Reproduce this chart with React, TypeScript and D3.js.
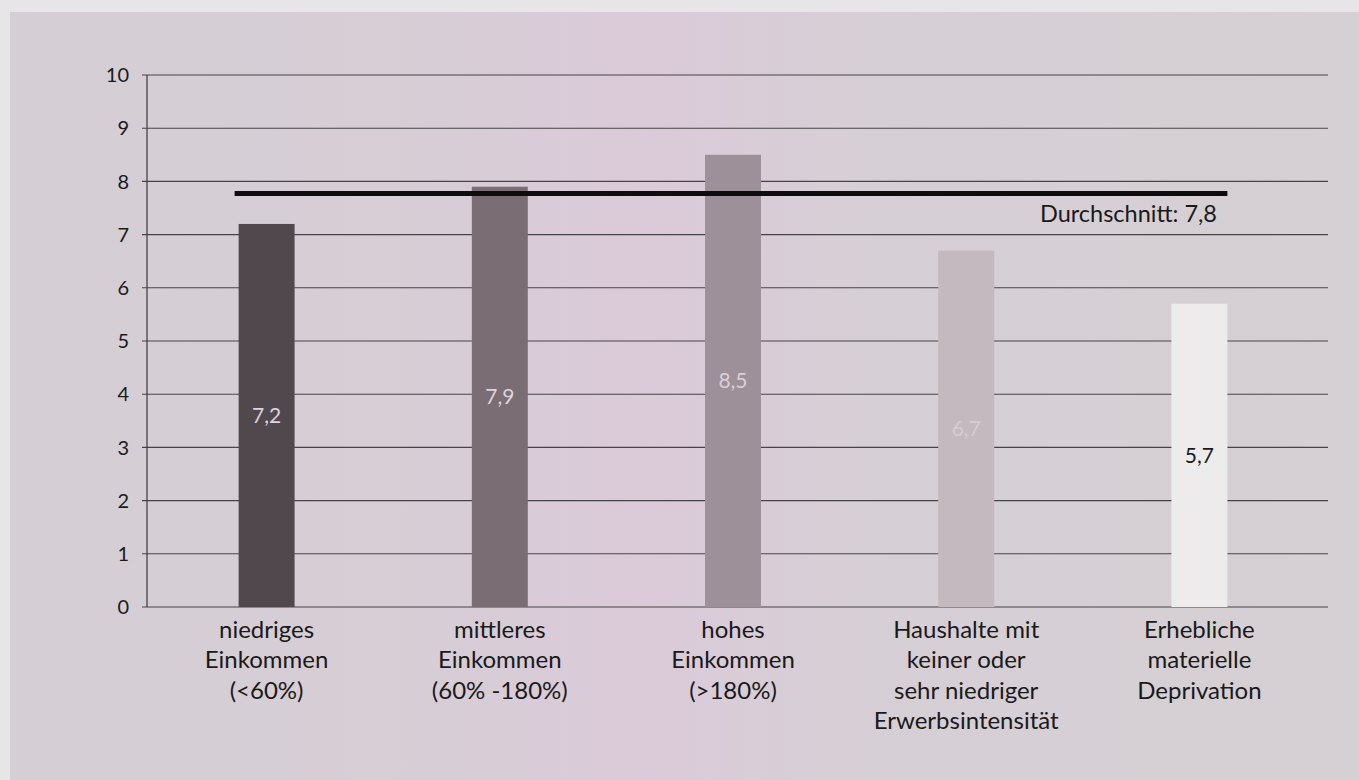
import React from "react";
import * as d3 from "d3";

const categories: string[][] = [
  ["niedriges", "Einkommen", "(<60%)"],
  ["mittleres", "Einkommen", "(60% -180%)"],
  ["hohes", "Einkommen", "(>180%)"],
  ["Haushalte mit", "keiner oder", "sehr niedriger", "Erwerbsintensität"],
  ["Erhebliche", "materielle", "Deprivation"],
];
const values: number[] = [7.2, 7.9, 8.5, 6.7, 5.7];
const valueLabels: string[] = ["7,2", "7,9", "8,5", "6,7", "5,7"];
const barColors: string[] = ["#51484e", "#7b6d74", "#9d9098", "#c4b9bf", "#eeebed"];
const labelColors: string[] = ["#dcd4da", "#ddd5db", "#d9cfd6", "#d6ccd2", "#1a1a1a"];
const yTicks: number[] = [0, 1, 2, 3, 4, 5, 6, 7, 8, 9, 10];
const average = 7.8;
const averageLabel = "Durchschnitt: 7,8";

export default function App() {
  const W = 1359;
  const H = 780;
  const axisX = 147;
  const gridRight = 1328;
  const y = d3.scaleLinear().domain([0, 10]).range([607, 75]);
  const x = d3
    .scaleBand<number>()
    .domain(d3.range(values.length))
    .range([150, 1316])
    .paddingInner(0.76)
    .paddingOuter(0.38);
  const bw = x.bandwidth();
  const font = "Lato, 'Open Sans', sans-serif";
  const first = x(0)!;
  const last = x(values.length - 1)! + bw;

  return (
    <svg
      width={W}
      height={H}
      style={{ position: "absolute", left: 0, top: 0, display: "block" }}
    >
      <defs>
        <linearGradient id="bg" x1="0" x2="1" y1="0" y2="0">
          <stop offset="0" stopColor="#d4cfd4" />
          <stop offset="0.33" stopColor="#d7cdd6" />
          <stop offset="0.47" stopColor="#dbcad9" />
          <stop offset="0.6" stopColor="#d7ced6" />
          <stop offset="1" stopColor="#d5d0d4" />
        </linearGradient>
      </defs>
      <rect x={0} y={0} width={W} height={H} fill="#e7e5e7" />
      <rect x={10} y={12} width={W - 10} height={H - 12} fill="url(#bg)" />

      {/* gridlines */}
      {yTicks.map((t) => (
        <line
          key={"g" + t}
          x1={axisX - 5}
          x2={gridRight}
          y1={y(t)}
          y2={y(t)}
          stroke="#474447"
          strokeWidth={1.1}
        />
      ))}
      <line x1={axisX} x2={axisX} y1={y(10)} y2={y(0)} stroke="#3a3a3a" strokeWidth={1.2} />

      {/* y tick labels */}
      {yTicks.map((t) => (
        <text
          key={"t" + t}
          x={129}
          y={y(t)}
          dy="0.36em"
          textAnchor="end"
          fontFamily={font}
          fontSize={20}
          fill="#1a1a1a"
        >
          {t}
        </text>
      ))}

      {/* bars */}
      {values.map((v, i) => (
        <rect
          key={"b" + i}
          x={x(i)!}
          y={y(v)}
          width={bw}
          height={y(0) - y(v)}
          fill={barColors[i]}
        />
      ))}

      {/* average line */}
      <line
        x1={first - 4}
        x2={last}
        y1={y(average) + 1.5}
        y2={y(average) + 1.5}
        stroke="#0d0d0d"
        strokeWidth={5}
      />
      <text
        x={1217}
        y={222}
        textAnchor="end"
        fontFamily={font}
        fontSize={23.5}
        fill="#1a1a1a"
      >
        {averageLabel}
      </text>

      {/* value labels */}
      {values.map((v, i) => (
        <text
          key={"v" + i}
          x={x(i)! + bw / 2}
          y={(y(v) + y(0)) / 2}
          dy="0.36em"
          textAnchor="middle"
          fontFamily={font}
          fontSize={21}
          fill={labelColors[i]}
        >
          {valueLabels[i]}
        </text>
      ))}

      {/* category labels */}
      {categories.map((lines, i) => (
        <text
          key={"c" + i}
          x={x(i)! + bw / 2}
          y={638}
          textAnchor="middle"
          fontFamily={font}
          fontSize={24}
          fill="#1a1a1a"
        >
          {lines.map((l, j) => (
            <tspan key={j} x={x(i)! + bw / 2} dy={j === 0 ? 0 : 30.3}>
              {l}
            </tspan>
          ))}
        </text>
      ))}
    </svg>
  );
}
